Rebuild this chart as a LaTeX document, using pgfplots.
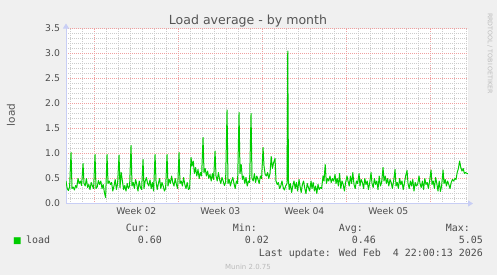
\documentclass[border=0pt]{standalone}
\usepackage{pgfplots}
\pgfplotsset{compat=1.18}
\usepackage{fontspec}
\setmainfont{DejaVu Sans}
\newfontfamily\monofont{DejaVu Sans Mono}
\usetikzlibrary{arrows.meta}
\definecolor{bgc}{HTML}{F0F0F0}
\definecolor{gc}{HTML}{CCCCCC}
\definecolor{mgc}{HTML}{F0A0A0}
\definecolor{axc}{HTML}{C8CEF5}
\definecolor{lc}{HTML}{00CC00}
\definecolor{tc}{HTML}{4D4D4D}
\definecolor{titc}{HTML}{555555}
\definecolor{lgc}{HTML}{BBBBBB}
\pgfplotstableread{
x y
-2.36 0.45
-2.26 0.30
-2.16 0.26
-2.06 0.33
-1.94 1.02
-1.86 0.30
-1.76 0.33
-1.66 0.27
-1.56 0.36
-1.46 0.32
-1.36 0.50
-1.26 0.40
-1.16 0.45
-1.06 0.36
-0.94 0.80
-0.86 0.40
-0.76 0.35
-0.66 0.50
-0.56 0.32
-0.46 0.38
-0.36 0.28
-0.26 0.42
-0.16 0.35
-0.06 0.30
0.06 0.98
0.14 0.30
0.24 0.33
0.34 0.46
0.44 0.38
0.54 0.45
0.64 0.30
0.74 0.38
0.84 0.22
0.94 0.12
1.06 0.98
1.14 0.40
1.24 0.45
1.34 0.38
1.44 0.42
1.54 0.25
1.64 0.35
1.74 0.48
1.84 0.28
1.94 0.40
2.06 0.97
2.14 0.32
2.24 0.62
2.34 0.45
2.44 0.28
2.54 0.36
2.64 0.25
2.74 0.40
2.84 0.30
2.94 0.35
3.06 1.16
3.14 0.35
3.24 0.42
3.34 0.30
3.44 0.48
3.54 0.38
3.64 0.25
3.74 0.45
3.84 0.32
3.94 0.28
4.06 0.88
4.14 0.30
4.24 0.45
4.34 0.52
4.44 0.40
4.54 0.35
4.64 0.47
4.74 0.30
4.84 0.42
4.94 0.25
5.06 0.98
5.14 0.45
5.24 0.28
5.34 0.40
5.44 0.50
5.54 0.30
5.64 0.42
5.74 0.35
5.84 0.25
5.94 0.30
6.06 0.98
6.14 0.35
6.24 0.48
6.34 0.40
6.44 0.55
6.54 0.42
6.64 0.35
6.74 0.50
6.84 0.38
6.94 0.30
7.06 1.02
7.14 0.40
7.24 0.45
7.34 0.35
7.44 0.52
7.54 0.38
7.64 0.30
7.74 0.42
7.84 0.28
7.94 0.30
8.06 0.92
8.14 0.75
8.24 0.85
8.34 0.60
8.44 0.72
8.54 0.55
8.64 0.68
8.74 0.50
8.84 0.62
8.94 0.55
9.06 1.32
9.14 0.62
9.24 0.70
9.34 0.55
9.44 0.65
9.54 0.50
9.64 0.58
9.74 0.45
9.84 0.60
9.94 0.48
10.06 1.05
10.14 0.55
10.24 0.45
10.34 0.62
10.44 0.48
10.54 0.40
10.64 0.52
10.74 0.45
10.84 0.36
10.94 0.42
11.06 1.87
11.14 0.40
11.24 0.48
11.34 0.35
11.44 0.45
11.54 0.52
11.64 0.40
11.74 0.30
11.84 0.45
11.94 0.40
12.06 1.82
12.14 0.60
12.24 0.78
12.34 0.48
12.44 0.55
12.54 0.40
12.64 0.52
12.74 0.35
12.84 0.45
12.94 0.42
13.06 1.80
13.14 0.50
13.24 0.45
13.34 0.60
13.44 0.42
13.54 0.55
13.64 0.48
13.74 0.40
13.84 0.55
13.94 0.50
14.06 1.12
14.14 0.75
14.24 0.58
14.34 0.55
14.44 0.62
14.54 0.50
14.64 0.60
14.74 0.94
14.84 0.70
14.94 0.82
15.06 0.90
15.14 0.45
15.24 0.38
15.34 0.42
15.44 0.30
15.54 0.35
15.64 0.45
15.74 0.32
15.84 0.27
15.94 0.35
16.06 0.40
16.12 3.05
16.18 0.45
16.24 0.28
16.34 0.40
16.44 0.22
16.54 0.35
16.64 0.45
16.74 0.30
16.84 0.42
16.94 0.25
17.06 0.48
17.14 0.35
17.24 0.22
17.34 0.38
17.44 0.45
17.54 0.30
17.64 0.20
17.74 0.40
17.84 0.32
17.94 0.25
18.06 0.45
18.14 0.30
18.24 0.42
18.34 0.25
18.44 0.35
18.54 0.20
18.64 0.38
18.74 0.28
18.84 0.32
18.94 0.30
19.06 0.55
19.14 0.45
19.24 0.78
19.34 0.40
19.44 0.50
19.54 0.45
19.64 0.55
19.74 0.42
19.84 0.50
19.94 0.45
20.06 0.58
20.14 0.40
20.24 0.50
20.34 0.35
20.44 0.60
20.54 0.30
20.64 0.45
20.74 0.38
20.84 0.25
20.94 0.42
21.06 0.55
21.14 0.45
21.24 0.35
21.34 0.55
21.44 0.40
21.54 0.62
21.64 0.38
21.74 0.30
21.84 0.45
21.94 0.40
22.06 0.60
22.14 0.35
22.24 0.48
22.34 0.42
22.44 0.30
22.54 0.50
22.64 0.38
22.74 0.45
22.84 0.28
22.94 0.40
23.06 0.62
23.14 0.40
23.24 0.32
23.34 0.50
23.44 0.38
23.54 0.45
23.64 0.28
23.74 0.55
23.84 0.35
23.94 0.42
24.06 0.72
24.14 0.45
24.24 0.55
24.34 0.40
24.44 0.50
24.54 0.35
24.64 0.48
24.74 0.42
24.84 0.30
24.94 0.45
25.06 0.68
25.14 0.35
25.24 0.42
25.34 0.30
25.44 0.50
25.54 0.38
25.64 0.45
25.74 0.28
25.84 0.40
25.94 0.55
26.06 0.66
26.14 0.40
26.24 0.30
26.34 0.45
26.44 0.35
26.54 0.48
26.64 0.25
26.74 0.42
26.84 0.35
26.94 0.38
27.06 0.55
27.14 0.40
27.24 0.32
27.34 0.45
27.44 0.28
27.54 0.50
27.64 0.38
27.74 0.42
27.84 0.30
27.94 0.45
28.06 0.67
28.14 0.38
28.24 0.45
28.34 0.30
28.44 0.52
28.54 0.40
28.64 0.25
28.74 0.45
28.84 0.24
28.94 0.35
29.06 0.67
29.14 0.40
29.24 0.48
29.34 0.35
29.44 0.45
29.54 0.38
29.64 0.30
29.74 0.42
29.84 0.48
29.94 0.45
30.06 0.50
30.14 0.48
30.24 0.62
30.34 0.70
30.44 0.85
30.54 0.72
30.64 0.65
30.74 0.70
30.84 0.60
30.94 0.62
31.04 0.60
31.12 0.60
}\loaddata
\begin{document}
\begin{tikzpicture}
\fill[bgc] (0,0) rectangle (497bp,-275bp);
\begin{axis}[
  at={(66bp,-203.5bp)}, anchor=south west,
  scale only axis, width=402bp, height=175bp,
  xmin=-2.36, xmax=31.14, ymin=0, ymax=3.5,
  axis background/.style={fill=white},
  axis x line*=bottom, axis y line*=left,
  axis line style={draw=axc, line width=0.8bp},
  x axis line style={-{Triangle[length=5bp,width=6bp]}, shorten >=-5bp},
  y axis line style={-{Triangle[length=5bp,width=6bp]}, shorten >=-5bp},
  xtick={0,7,14,21,28}, xticklabels={},
  minor xtick={-2,-1,1,2,3,4,5,6,8,9,10,11,12,13,15,16,17,18,19,20,22,23,24,25,26,27,29,30,31},
  extra x ticks={3.5,10.5,17.5,24.5},
  extra x tick labels={Week 02,Week 03,Week 04,Week 05},
  extra x tick style={grid=none},
  ytick={0,0.5,1,1.5,2,2.5,3,3.5},
  minor ytick={0.1,0.2,0.3,0.4,0.6,0.7,0.8,0.9,1.1,1.2,1.3,1.4,1.6,1.7,1.8,1.9,2.1,2.2,2.3,2.4,2.6,2.7,2.8,2.9,3.1,3.2,3.3,3.4},
  grid=both,
  major grid style={draw=mgc, line width=0.8bp, dash pattern=on 1bp off 1bp},
  minor grid style={draw=gc, line width=0.8bp, dash pattern=on 1bp off 1bp},
  major tick length=0, minor tick length=0,
  tick label style={font=\fontsize{9.3}{11}\selectfont, text=tc},
  /pgf/number format/assume math mode=true,
  yticklabel style={/pgf/number format/fixed,/pgf/number format/fixed zerofill,/pgf/number format/precision=1, xshift=-2.5bp},
]
\addplot[draw=lc, line width=1bp, line join=round] table[x=x,y=y] {\loaddata};
\end{axis}
\node[anchor=base, inner sep=0, font=\fontsize{12.6}{14}\selectfont, text=titc] at (248bp,-24bp) {Load average - by month};
\node[rotate=90, inner sep=0, font=\fontsize{10.5}{12}\selectfont, text=titc] at (11bp,-115bp) {load};
\node[rotate=-90, inner sep=0, font=\fontsize{6.3}{7}\selectfont, text=lgc] at (490bp,-53.5bp) {RRDTOOL / TOBI OETIKER};
\tikzset{leg/.style={inner sep=0, font=\monofont\fontsize{10}{12}\selectfont, text=tc}}
\node[anchor=base west, inner sep=0, font=\fontsize{9}{10}\selectfont, text=lc] at (13bp,-243bp) {■};
\node[leg, anchor=base west] at (26bp,-243bp) {load};
\node[leg, anchor=base east] at (150bp,-231bp) {Cur:};
\node[leg, anchor=base east] at (162bp,-243bp) {0.60};
\node[leg, anchor=base east] at (257bp,-231bp) {Min:};
\node[leg, anchor=base east] at (269bp,-243bp) {0.02};
\node[leg, anchor=base east] at (363bp,-231bp) {Avg:};
\node[leg, anchor=base east] at (376bp,-243bp) {0.46};
\node[leg, anchor=base east] at (470bp,-231bp) {Max:};
\node[leg, anchor=base east] at (483bp,-243bp) {5.05};
\node[leg, anchor=base east] at (483bp,-256bp) {Last update: Wed Feb\ \ 4 22:00:13 2026};
\node[anchor=base, inner sep=0, font=\fontsize{7}{8}\selectfont, text=lgc] at (248bp,-269bp) {Munin 2.0.75};
\end{tikzpicture}
\end{document}
